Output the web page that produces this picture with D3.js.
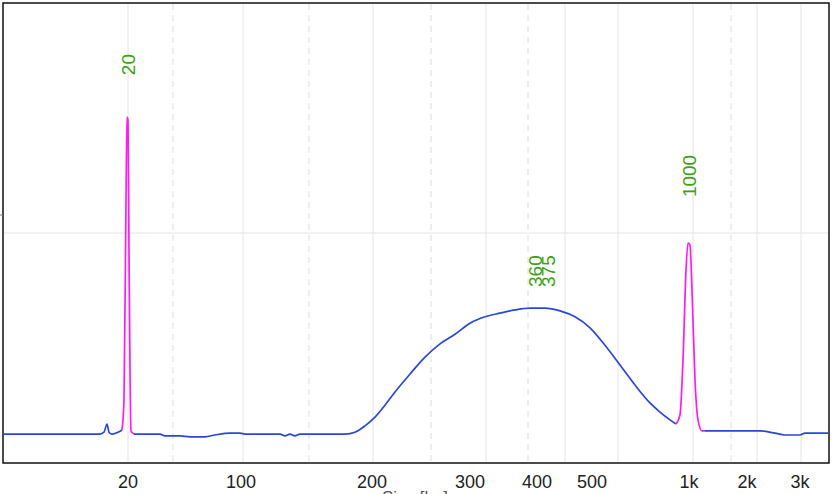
<!DOCTYPE html>
<html><head><meta charset="utf-8">
<script src="https://cdn.jsdelivr.net/npm/d3@7"></script>
<style>body{margin:0;background:#fff}text{font-family:"Liberation Sans",Arial,sans-serif}</style>
</head><body><svg id="c" width="832" height="494"></svg>
<script>
'use strict';
// migration time (arbitrary units) and fluorescence
var baseT = [0,96,100,103,105,108,114,118];
var baseF = [6.1,6.1,6.5,8.3,6.5,6.1,6.5,7.0];
var peak20T = [118,120,122,123,124,125,127,130];
var peak20F = [7.0,13.5,57.2,75.3,74.7,46.3,6.8,6.1];
var midT = [130,156,161,176,186,201,211,226,236,241,276,281,286,291,296,341,351,361,371,381,391,406,421,436,451,466,481,496,511,526,541,556,571,586,601,616,631,646,656,666,672];
var midF = [6.1,6.1,5.7,5.7,5.5,5.5,5.9,6.3,6.3,6.1,6.1,5.7,6.1,5.7,6.1,6.1,6.5,7.9,9.8,12.4,15.3,19.2,22.9,25.8,27.9,30.3,31.7,32.5,33.2,33.6,33.6,33.0,31.7,29.3,25.5,21.2,16.8,12.9,10.9,9.2,8.3];
var peak1kT = [672,676,679,682,684,686,688,691,694,698,701];
var peak1kF = [8.3,10.3,22.3,41.9,47.8,47.4,37.5,17.9,9.2,6.8,6.8];
var tailT = [701,716,756,771,781,796,801,824];
var tailF = [6.8,6.8,6.8,6.3,5.9,5.9,6.3,6.3];
var ladderSizes = [20,100,200,300,400,500,1000,2000,3000];
var ladderT = [124,237,368,466,533,588,685,743,796];
var tickLabels = ['20','100','200','300','400','500','1k','2k','3k'];
var gridSolid = [124,239,369,482,561,614,689,753,797];
var gridDashed = [169,305,427,524,727];
var peakLabels = [{t:124,f:75.3,txt:'20',lift:42},{t:685,f:47.8,txt:'1000',lift:46}];
var smearLabels = [{t:531,txt:'360'},{t:544,txt:'375'}];

var svg = d3.select('#c');
var L = 4, R = 828, T = 4, B = 462;
var x = d3.scaleLinear().domain([0,824]).range([L,R]);
var y = d3.scaleLinear().domain([0,100]).range([B,T]);

var g = svg.append('g');
g.selectAll('line.gs').data(gridSolid).enter().append('line')
  .attr('x1', d => x(d)).attr('x2', d => x(d)).attr('y1', T).attr('y2', B)
  .attr('stroke', '#e4e4e4').attr('stroke-width', 1);
g.selectAll('line.gd').data(gridDashed).enter().append('line')
  .attr('x1', d => x(d)).attr('x2', d => x(d)).attr('y1', T).attr('y2', B)
  .attr('stroke', '#dcdcdc').attr('stroke-dasharray', '6,5');
g.append('line').attr('x1', L).attr('x2', R).attr('y1', y(50)).attr('y2', y(50))
  .attr('stroke', '#e4e4e4');

var line = d3.line().x(d => x(d[0])).y(d => y(d[1])).curve(d3.curveMonotoneX);
function seg(ts, fs, col) {
  svg.append('path').datum(d3.zip(ts, fs)).attr('d', line)
    .attr('fill', 'none').attr('stroke', col).attr('stroke-width', 1.7);
}
seg(baseT, baseF, '#2748d8');
seg(midT, midF, '#2748d8');
seg(tailT, tailF, '#2748d8');
seg(peak20T, peak20F, '#ff1cf0');
seg(peak1kT, peak1kF, '#ff1cf0');

svg.append('rect').attr('x', L - 1).attr('y', T - 1).attr('width', R - L + 2).attr('height', B - T + 2)
  .attr('fill', 'none').attr('stroke', '#111').attr('stroke-width', 1.5);
svg.append('line').attr('x1', 0).attr('x2', 3).attr('y1', 215).attr('y2', 215).attr('stroke', '#777');

svg.selectAll('text.tk').data(ladderT).enter().append('text')
  .attr('x', d => x(d)).attr('y', 488).attr('text-anchor', 'middle')
  .attr('font-size', 18).attr('fill', '#222').text((d, i) => tickLabels[i]);
svg.append('text').attr('x', 415).attr('y', 503).attr('text-anchor', 'middle')
  .attr('font-size', 17).attr('fill', '#555').text('Size [bp]');

function vlabel(t, yy, txt) {
  svg.append('text').attr('transform', `translate(${x(t) + 7},${yy}) rotate(-90)`)
    .attr('font-size', 19).attr('fill', '#3aa30f').text(txt);
}
peakLabels.forEach(d => vlabel(d.t, y(d.f) - d.lift, d.txt));
smearLabels.forEach(d => vlabel(d.t, 287, d.txt));
</script></body></html>
